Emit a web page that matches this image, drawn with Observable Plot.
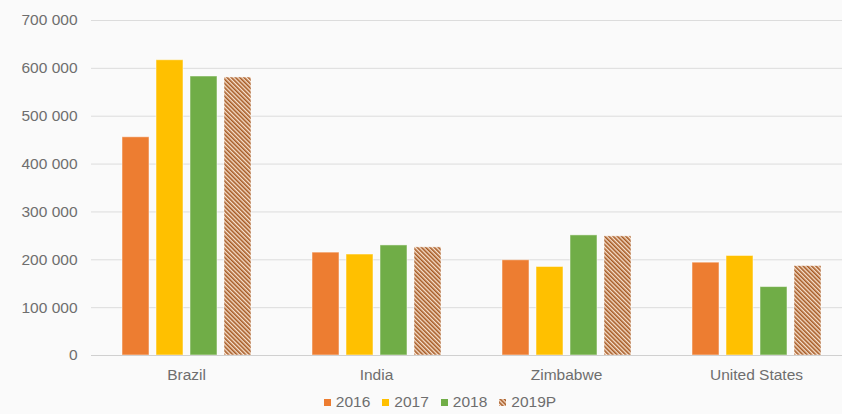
<!DOCTYPE html>
<html>
<head>
<meta charset="utf-8">
<script src="https://cdn.jsdelivr.net/npm/d3@7"></script>
<script src="https://cdn.jsdelivr.net/npm/@observablehq/plot@0.6"></script>
<style>
  html, body { margin: 0; padding: 0; background: #fafafa; }
  body { width: 842px; height: 414px; overflow: hidden; font-family: "Liberation Sans", Arial, sans-serif; }
  #legend { display: flex; justify-content: center; gap: 12px; font-size: 15.5px; color: #6e6e6e; margin-top: 1px; padding-left: 38px; }
  #legend .item { display: flex; align-items: center; gap: 5px; }
  #legend svg { display: block; }
</style>
</head>
<body>
<div id="chart"></div>
<div id="legend"></div>
<script>
const countries = ["Brazil", "India", "Zimbabwe", "United States"];
const years = ["2016", "2017", "2018", "2019P"];
const v2016 = [456000, 215000, 199000, 194000];
const v2017 = [617000, 211000, 185000, 208000];
const v2018 = [583000, 230000, 251000, 143000];
const v2019P = [581000, 226000, 249000, 187000];
const yTicks = [0, 100000, 200000, 300000, 400000, 500000, 600000, 700000];
const colors = ["#ED7D31", "#FFC000", "#70AD47", "url(#hatch)"];

const series = [v2016, v2017, v2018, v2019P];
const data = [];
countries.forEach((c, i) => years.forEach((y, j) => data.push({country: c, year: y, value: series[j][i]})));

const fmt = d => d3.format(",")(d).replace(/,/g, " ");

const plot = Plot.plot({
  width: 842,
  height: 392,
  marginLeft: 91,
  marginRight: 0,
  marginTop: 20,
  marginBottom: 37,
  style: {background: "transparent", fontFamily: "Liberation Sans, Arial, sans-serif", fontSize: "15.5px", color: "#6e6e6e"},
  facet: {data, x: "country"},
  fx: {domain: countries, range: [91, 851], paddingInner: 0, paddingOuter: 0, label: null, axis: "bottom", tickSize: 0, tickPadding: 13},
  x: {domain: years, paddingInner: 0.22, paddingOuter: 0.86, axis: null},
  y: {domain: [0, 700000], ticks: yTicks, tickFormat: fmt, label: null, tickSize: 0, tickPadding: 14},
  color: {domain: years, range: colors},
  marks: [
    Plot.ruleY(yTicks, {stroke: "#dcdcdc", strokeWidth: 1}),
    Plot.barY(data, {x: "year", y: "value", fill: "year", stroke: "#ffffff", strokeOpacity: 0.5, strokeWidth: 1}),
    Plot.ruleY([0], {stroke: "#d0d0d0", strokeWidth: 1})
  ]
});

const ns = "http://www.w3.org/2000/svg";
function addHatch(svg, id) {
  const defs = document.createElementNS(ns, "defs");
  const pat = document.createElementNS(ns, "pattern");
  pat.setAttribute("id", id);
  pat.setAttribute("patternUnits", "userSpaceOnUse");
  pat.setAttribute("width", "3");
  pat.setAttribute("height", "3");
  pat.setAttribute("patternTransform", "rotate(-45)");
  const bg = document.createElementNS(ns, "rect");
  bg.setAttribute("width", "3"); bg.setAttribute("height", "3"); bg.setAttribute("fill", "#F8E2CF");
  const ln = document.createElementNS(ns, "rect");
  ln.setAttribute("width", "1.6"); ln.setAttribute("height", "3"); ln.setAttribute("fill", "#A65A24");
  pat.appendChild(bg); pat.appendChild(ln); defs.appendChild(pat);
  svg.insertBefore(defs, svg.firstChild);
}
addHatch(plot, "hatch");
plot.querySelectorAll("text").forEach(t => t.setAttribute("fill", "#6e6e6e"));
document.getElementById("chart").appendChild(plot);

const legend = document.getElementById("legend");
years.forEach((y, j) => {
  const item = document.createElement("div");
  item.className = "item";
  const sw = document.createElementNS(ns, "svg");
  sw.setAttribute("width", "7"); sw.setAttribute("height", "7");
  if (j === 3) addHatch(sw, "hatchL");
  const r = document.createElementNS(ns, "rect");
  r.setAttribute("width", "7"); r.setAttribute("height", "7");
  r.setAttribute("fill", j === 3 ? "url(#hatchL)" : colors[j]);
  sw.appendChild(r);
  item.appendChild(sw);
  const s = document.createElement("span");
  s.textContent = y;
  item.appendChild(s);
  legend.appendChild(item);
});
</script>
</body>
</html>
